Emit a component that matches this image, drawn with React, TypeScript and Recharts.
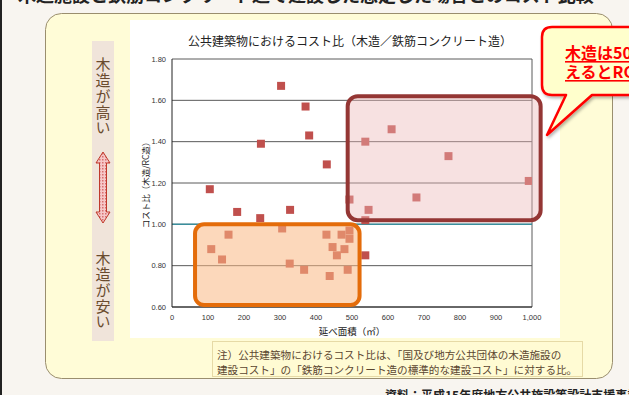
import React from 'react';
import {
  ScatterChart,
  Scatter,
  XAxis,
  YAxis,
  ZAxis,
  CartesianGrid,
  ReferenceLine,
  ReferenceArea,
} from 'recharts';

// 延べ面積（㎡）
const floorAreas = [
  105, 303, 371, 381, 247, 430, 328, 181, 245, 493, 537, 546, 610, 768, 991, 679, 537,
  157, 109, 139, 306, 327, 367, 429, 446, 458, 438, 471, 479, 493, 493, 488, 537,
];
// コスト比（木造/RC造）
const costRatios = [
  1.17, 1.67, 1.57, 1.43, 1.39, 1.29, 1.07, 1.06, 1.03, 1.12, 1.4, 1.07, 1.46, 1.33, 1.21, 1.13, 1.02,
  0.95, 0.88, 0.83, 0.98, 0.81, 0.78, 0.95, 0.89, 0.85, 0.75, 0.95, 0.88, 0.97, 0.93, 0.78, 0.85,
];
const xTicks = [0, 100, 200, 300, 400, 500, 600, 700, 800, 900, 1000];
const yTicks = [0.6, 0.8, 1.0, 1.2, 1.4, 1.6, 1.8];

// highlighted regions (data coordinates)
const cheapRegion = { x1: 64, x2: 521, y1: 0.61, y2: 1.0 };
const expensiveRegion = { x1: 488, x2: 1024, y1: 1.02, y2: 1.62 };

const chartTitle = '公共建築物におけるコスト比（木造／鉄筋コンクリート造）';
const yAxisTitle = 'コスト比（木造/RC造）';
const xAxisTitle = '延べ面積（㎡）';
const noteLines = [
  '注）公共建築物におけるコスト比は、「国及び地方公共団体の木造施設の',
  '建設コスト」の「鉄筋コンクリート造の標準的な建設コスト」に対する比。',
];
const sourceText = '資料：平成15年度地方公共施設等設計支援事業';
const headingText = '木造施設と鉄筋コンクリート造で建設した想定した場合とのコスト比較';
const highText = '木造が高い';
const lowText = '木造が安い';
const calloutLines = ['木造は500㎡を超', 'えるとRC造と同等'];

const points = floorAreas.map((x, i) => ({ x, y: costRatios[i] }));

const JP = '"Noto Sans CJK JP", "Noto Sans", sans-serif';
const NUM = '"Liberation Sans", Arial, sans-serif';

const fmtX = (v: number) => v.toLocaleString('en-US');
const fmtY = (v: number) => v.toFixed(2);

const roundedShape = (rx: number, stroke: string, fill: string, fillOpacity: number) => (p: any) => {
  const { x, y, width, height } = p;
  if (x == null || y == null) return null;
  return (
    <rect
      x={x}
      y={y}
      width={width}
      height={height}
      rx={rx}
      ry={rx}
      fill={fill}
      fillOpacity={fillOpacity}
      stroke={stroke}
      strokeWidth={4}
    />
  );
};

const YLabel = (props: any) => {
  const vb = props.viewBox || {};
  const cx = (vb.x ?? 0) + 3;
  const cy = (vb.y ?? 0) + (vb.height ?? 0) / 2;
  return (
    <text
      x={cx}
      y={cy}
      transform={`rotate(-90, ${cx}, ${cy})`}
      textAnchor="middle"
      dominantBaseline="central"
      fontSize={8.5}
      fontFamily={JP}
      fill="#222"
    >
      {yAxisTitle}
    </text>
  );
};

function VerticalText({ text, x, y }: { text: string; x: number; y: number }) {
  return (
    <text
      x={x}
      y={y}
      style={{ writingMode: 'vertical-rl' as any }}
      letterSpacing={0.8}
      fontSize={15}
      fontFamily={JP}
      fill="#6A4B2E"
    >
      {text}
    </text>
  );
}

export default function App() {
  return (
    <div
      style={{
        position: 'absolute',
        left: 0,
        top: 0,
        width: 629,
        height: 395,
        overflow: 'hidden',
        background: '#F8F5F0',
      }}
    >
      {/* background layer */}
      <svg width={629} height={395} style={{ position: 'absolute', left: 0, top: 0 }}>
        <defs>
          <pattern id="dots" width="3" height="3" patternUnits="userSpaceOnUse">
            <rect width="3" height="3" fill="#F6C8C8" />
            <rect width="1.5" height="1.5" fill="#D87070" />
          </pattern>
        </defs>
        <rect x={0} y={0} width={2} height={395} fill="#222" />
        <text x={18} y={2} fontSize={18} fontWeight={700} fontFamily={JP} fill="#222">
          {headingText}
        </text>
        {/* panel */}
        <rect x={45.5} y={13.5} width={567} height={365} rx={16} ry={16} fill="#FFFCD7" stroke="#9A8E6E" strokeWidth={1} />
        {/* white chart card */}
        <rect x={130} y={20} width={430} height={318} fill="#FFFFFF" />
        {/* left strip */}
        <rect x={92} y={41} width={22} height={300} fill="#F0E4DA" />
        <VerticalText text={highText} x={103} y={57} />
        <polygon
          points="103,152 110,163 106.5,163 106.5,212 110,212 103,223 96,212 99.5,212 99.5,163 96,163"
          fill="url(#dots)"
          stroke="#C0392B"
          strokeWidth={1}
        />
        <VerticalText text={lowText} x={103} y={251} />
        {/* chart title */}
        <text x={350} y={40} textAnchor="middle" dominantBaseline="central" fontSize={12} fontFamily={JP} fill="#222">
          {chartTitle}
        </text>
        {/* note box */}
        <rect x={212.5} y={341.5} width={370} height={35} fill="#FFFBD3" stroke="#E6DAA6" strokeWidth={1} />
        {noteLines.map((t, i) => (
          <text key={i} x={217} y={354 + i * 15} dominantBaseline="central" fontSize={10.6} fontFamily={JP} fill="#5B4630">
            {t}
          </text>
        ))}
        <text x={385} y={394} dominantBaseline="central" fontSize={12} fontWeight={700} fontFamily={JP} fill="#222">
          {sourceText}
        </text>
      </svg>

      {/* chart layer */}
      <div style={{ position: 'absolute', left: 0, top: 0 }}>
        <ScatterChart width={629} height={395} margin={{ top: 59, right: 97, bottom: 60, left: 142 }}>
          <CartesianGrid vertical={false} stroke="#5A5A5A" strokeWidth={1} />
          <XAxis
            type="number"
            dataKey="x"
            domain={[0, 1000]}
            ticks={xTicks}
            tickFormatter={fmtX}
            height={28}
            tickLine={false}
            axisLine={{ stroke: '#222' }}
            tick={{ fontSize: 7.5, fontFamily: NUM, fill: '#333' }}
            allowDataOverflow
            label={{ value: xAxisTitle, position: 'insideBottom', offset: 0, fontSize: 9.5, fontFamily: JP, fill: '#222' }}
          />
          <YAxis
            type="number"
            dataKey="y"
            domain={[0.6, 1.8]}
            ticks={yTicks}
            tickFormatter={fmtY}
            width={30}
            tickLine={false}
            tickMargin={0}
            axisLine={{ stroke: '#222' }}
            tick={{ fontSize: 7.5, fontFamily: NUM, fill: '#333' }}
            allowDataOverflow
            label={{ content: YLabel }}
          />
          <ZAxis type="number" range={[30, 30]} />
          <ReferenceLine x={1000} stroke="#5A5A5A" ifOverflow="visible" />
          <ReferenceLine y={1.0} stroke="#3A8E9C" strokeWidth={1.5} />
          <Scatter data={points} fill="#C0504D" shape="square" isAnimationActive={false} />
          <ReferenceArea
            x1={cheapRegion.x1}
            x2={cheapRegion.x2}
            y1={cheapRegion.y1}
            y2={cheapRegion.y2}
            ifOverflow="visible"
            zIndex={700}
            shape={roundedShape(9, '#E46C0A', '#FAB884', 0.55)}
          />
          <ReferenceArea
            x1={expensiveRegion.x1}
            x2={expensiveRegion.x2}
            y1={expensiveRegion.y1}
            y2={expensiveRegion.y2}
            ifOverflow="visible"
            zIndex={700}
            shape={roundedShape(10, '#943634', '#EBB8B8', 0.42)}
          />
        </ScatterChart>
      </div>

      {/* foreground callout */}
      <svg width={629} height={395} style={{ position: 'absolute', left: 0, top: 0, pointerEvents: 'none' }}>
        <defs>
          <filter id="sh" x="-20%" y="-20%" width="140%" height="160%">
            <feDropShadow dx="1.5" dy="2" stdDeviation="1.5" floodColor="#000" floodOpacity="0.3" />
          </filter>
        </defs>
        <g filter="url(#sh)">
          <path
            d="M552,27 L660,27 L660,95 L592,95 L547,135 L566,95 L552,95 Q542,95 542,85 L542,37 Q542,27 552,27 Z"
            fill="#FFFFCC"
            stroke="#FF0000"
            strokeWidth={2.5}
            strokeLinejoin="round"
          />
        </g>
        {calloutLines.map((t, i) => (
          <text
            key={i}
            x={565}
            y={52 + i * 19}
            dominantBaseline="central"
            fontSize={16}
            fontWeight={700}
            fontFamily={JP}
            fill="#FF0000"
            textDecoration="underline"
          >
            {t}
          </text>
        ))}
      </svg>
    </div>
  );
}
